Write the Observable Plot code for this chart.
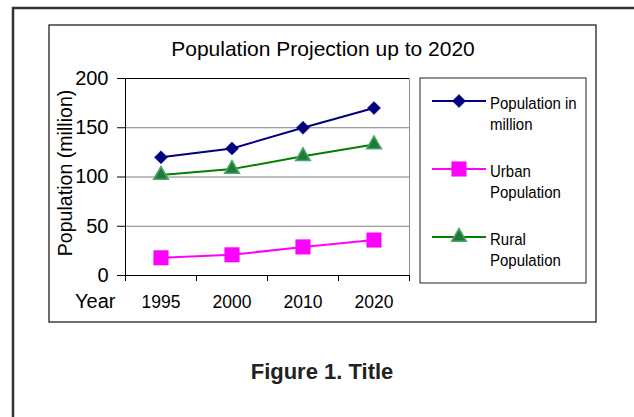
<!DOCTYPE html>
<html><head><meta charset="utf-8">
<script src="https://cdn.jsdelivr.net/npm/d3@7"></script>
<script src="https://cdn.jsdelivr.net/npm/@observablehq/plot@0.6"></script>
<style>body{margin:0;background:#fff;} svg{display:block}</style>
</head><body><div id="chart"></div>
<script>
const years = ["1995", "2000", "2010", "2020"];
const total = [120, 129, 150, 170];
const urban = [18, 21, 29, 36];
const rural = [102, 108, 121, 133];
const seriesNames = [["Population in", "million"], ["Urban", "Population"], ["Rural", "Population"]];
const yTicks = [0, 50, 100, 150, 200];
const gridValues = [50, 100, 150];
const titleText = "Population Projection up to 2020";
const yLabel = "Population (million)";
const xLabel = "Year";
const captionText = "Figure 1. Title";

const idx = years.map((_, i) => i);
const rows = (vals) => vals.map((v, i) => ({i, year: years[i], value: v}));
const dTotal = rows(total), dUrban = rows(urban), dRural = rows(rural);

const C_TOTAL = "#000080", C_URBAN = "#ff00ff", C_RURAL = "#008000";
const TRI_FILL = "#1f7a3a", TRI_STROKE = "#4aa56a";

const plot = Plot.plot({
  width: 634, height: 417,
  marginLeft: 125, marginRight: 225, marginTop: 78, marginBottom: 142,
  style: {fontFamily: "'Liberation Sans', Arial, sans-serif", background: "#fff", overflow: "visible", color: "#000"},
  x: {type: "linear", domain: [-0.5, years.length - 0.5]},
  y: {domain: [0, 200]},
  marks: [
    Plot.ruleY(gridValues, {stroke: "#808080", strokeWidth: 1}),
    Plot.ruleY([200], {stroke: "#000"}),
    Plot.ruleX([years.length - 0.5], {stroke: "#909090"}),
    Plot.ruleY([0], {stroke: "#000"}),
    Plot.ruleX([-0.5], {stroke: "#000"}),
    Plot.axisY({ticks: yTicks, tickSize: 8, tickPadding: 9, fontSize: 20, tickFormat: d => String(d), label: null}),
    Plot.axisX({ticks: d3.range(-0.5, years.length), tickSize: 6, tickFormat: () => "", label: null}),
    Plot.axisX({ticks: idx, tickSize: 0, tickPadding: 20, fontSize: 17.5, tickFormat: i => years[i], label: null}),
    Plot.line(dTotal, {x: "i", y: "value", stroke: C_TOTAL, strokeWidth: 2}),
    Plot.line(dUrban, {x: "i", y: "value", stroke: C_URBAN, strokeWidth: 2}),
    Plot.line(dRural, {x: "i", y: "value", stroke: C_RURAL, strokeWidth: 2}),
    Plot.dot(dTotal, {x: "i", y: "value", symbol: "diamond2", r: 5.9, fill: C_TOTAL, stroke: C_TOTAL, strokeWidth: 0.5}),
    Plot.dot(dUrban, {x: "i", y: "value", symbol: "square", r: 8.2, fill: C_URBAN, stroke: C_URBAN, strokeWidth: 0.5}),
    Plot.dot(dRural, {x: "i", y: "value", symbol: "triangle", r: 5.4, fill: TRI_FILL, stroke: TRI_STROKE, strokeWidth: 1.6})
  ]
});
document.getElementById("chart").appendChild(plot);

const svg = d3.select(plot);
const FONT = "'Liberation Sans', Arial, sans-serif";
// outer frame
svg.append("path").attr("d", "M13,430 V8 H650").attr("fill", "none").attr("stroke", "#333").attr("stroke-width", 2.5);
// chart area box
svg.append("rect").attr("x", 49).attr("y", 25).attr("width", 547).attr("height", 297)
  .attr("fill", "none").attr("stroke", "#222").attr("stroke-width", 1.3);
// title
svg.append("text").attr("x", 323).attr("y", 56).attr("text-anchor", "middle")
  .attr("font-family", FONT).attr("font-size", 21).attr("fill", "#000").text(titleText);
// x label
svg.append("text").attr("x", 75).attr("y", 308).attr("text-anchor", "start")
  .attr("font-family", FONT).attr("font-size", 20).attr("fill", "#000").text(xLabel);
// y label
svg.append("text").attr("transform", "translate(72,173) rotate(-90)").attr("text-anchor", "middle")
  .attr("font-family", FONT).attr("font-size", 19.6).attr("fill", "#000").text(yLabel);
// legend
svg.append("rect").attr("x", 420).attr("y", 78).attr("width", 166).attr("height", 205)
  .attr("fill", "#fff").attr("stroke", "#222").attr("stroke-width", 1);
const legendY = [101, 169, 237];
const legendSym = [
  {sym: d3.symbolDiamond2, size: Math.PI * 5.9 * 5.9, fill: C_TOTAL, stroke: C_TOTAL, sw: 0.5, color: C_TOTAL},
  {sym: d3.symbolSquare, size: Math.PI * 8.2 * 8.2, fill: C_URBAN, stroke: C_URBAN, sw: 0.5, color: C_URBAN},
  {sym: d3.symbolTriangle, size: Math.PI * 5.4 * 5.4, fill: TRI_FILL, stroke: TRI_STROKE, sw: 1.6, color: C_RURAL}
];
legendSym.forEach((s, k) => {
  const g = svg.append("g");
  const ly = legendY[k];
  g.append("line").attr("x1", 432).attr("x2", 486).attr("y1", ly).attr("y2", ly).attr("stroke", s.color).attr("stroke-width", 2);
  g.append("path").attr("d", d3.symbol(s.sym, s.size)()).attr("transform", `translate(459,${ly})`)
    .attr("fill", s.fill).attr("stroke", s.stroke).attr("stroke-width", s.sw);
  seriesNames[k].forEach((t, j) => {
    g.append("text").attr("transform", `translate(490,${ly + 7.5 + j * 21}) scale(1,1.1)`).attr("text-anchor", "start")
      .attr("font-family", FONT).attr("font-size", 15).attr("fill", "#000").text(t);
  });
});
// caption
svg.append("text").attr("x", 322).attr("y", 379).attr("text-anchor", "middle")
  .attr("font-family", FONT).attr("font-weight", "bold").attr("font-size", 22).attr("fill", "#222").text(captionText);
</script>
</body></html>
